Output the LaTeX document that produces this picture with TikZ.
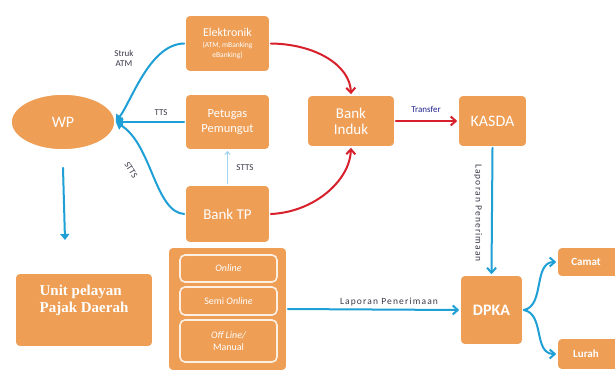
\documentclass[tikz,border=0pt]{standalone}
\usepackage{fontspec}
\setmainfont{Carlito}
\newfontfamily\serifbold{Liberation Serif}
\usetikzlibrary{arrows.meta,shapes.geometric}
\begin{document}
\begin{tikzpicture}[x=1pt,y=-1pt]
\definecolor{color0}{HTML}{EE9E55}
\definecolor{color1}{HTML}{1E9FD6}
\definecolor{color2}{HTML}{D7202B}
\definecolor{color3}{HTML}{3A3A4A}
\definecolor{color4}{HTML}{9FD3EC}
\tikzset{
  box/.style={rectangle,rounded corners=5pt,fill=color0,draw=white,line width=1.6pt,text=white,align=center,inner sep=1pt},
  subbox/.style={box,draw=white!85!color0,minimum width=97pt,font=\fontsize{10}{12}\selectfont},
  blueline/.style={color1,line width=2pt,line cap=round,-{Straight Barb[length=5pt,width=9pt]}},
  redline/.style={color2,line width=2pt,line cap=round,-{Straight Barb[length=5pt,width=9pt]}},
  lbl/.style={text=color3,font=\fontsize{9}{10}\selectfont,align=center,inner sep=1pt},
  widelbl/.style={lbl,font=\fontsize{9.5}{10}\selectfont\addfontfeature{LetterSpace=12}}
}
\useasboundingbox[fill=white] (0,0) rectangle (615,373);
% nodes
\node[ellipse,fill=color0,draw=white,line width=1.6pt,minimum width=104pt,minimum height=56pt,text=white,font=\fontsize{16}{18}\selectfont] (wp) at (63,122) {WP};
\node[box,minimum width=85pt,minimum height=57pt] (elek) at (227.5,43.5) {{\fontsize{12}{14}\selectfont Elektronik}\\[-1pt]{\fontsize{7.5}{8}\selectfont (ATM, mBanking}\\[-2pt]{\fontsize{7.5}{8}\selectfont eBanking)}};
\node[box,minimum width=85pt,minimum height=56pt,font=\fontsize{12.5}{15}\selectfont] (petugas) at (227.5,122) {Petugas\\Pemungut};
\node[box,minimum width=85pt,minimum height=58pt,font=\fontsize{15}{17}\selectfont] (banktp) at (227.5,214) {Bank TP};
\node[box,minimum width=119pt,minimum height=124pt] (kanal) at (227.5,309) {};
\node[subbox,minimum height=27pt] (online) at (228.5,268.5) {\itshape Online};
\node[subbox,minimum height=28pt] (semi) at (228.5,301) {Semi \itshape Online};
\node[subbox,minimum height=42pt] (offline) at (228.5,341) {\itshape Off Line/\\Manual};
\node[box,minimum width=138pt,minimum height=74pt,font=\serifbold\bfseries\fontsize{15}{17}\selectfont,align=left] (unit) at (84,310) {Unit pelayan\\Pajak Daerah\\[6pt]};
\node[box,minimum width=88pt,minimum height=52pt,font=\fontsize{15}{16}\selectfont] (bankinduk) at (351,121) {Bank\\Induk};
\node[box,minimum width=69pt,minimum height=52pt,font=\fontsize{16}{18}\selectfont] (kasda) at (492.5,121) {KASDA};
\node[box,minimum width=63pt,minimum height=70pt,font=\bfseries\fontsize{16}{18}\selectfont] (dpka) at (491.5,310) {DPKA};
\node[box,minimum width=64pt,minimum height=30pt,font=\bfseries\fontsize{11}{13}\selectfont] (camat) at (589,262) {\hspace*{-6pt}Camat};
\node[box,minimum width=64pt,minimum height=32pt,font=\bfseries\fontsize{11}{13}\selectfont] (lurah) at (589,354) {\hspace*{-6pt}Lurah};
\coordinate (wpdown) at (65,240);
% connectors to WP
\draw[color1,line width=2pt,line cap=round,-{Triangle[length=7pt,width=9pt]}] (elek.west) .. controls (150,44) and (132,100) .. (wp.east);
\draw[color1,line width=2pt,line cap=round,-{Triangle[length=7pt,width=9pt]}] (petugas.west) -- (wp.east);
\draw[color1,line width=2pt,line cap=round,-{Triangle[length=7pt,width=9pt]}] (banktp.west) .. controls (155,212) and (152,145) .. (wp.east);
\draw[blueline,-{Triangle[length=6pt,width=9pt]}] ([yshift=-17pt]wp.south) -- (wpdown);
\draw[color4,line width=1pt,-{Straight Barb[length=3pt,width=5pt]}] (banktp.north) -- (petugas.south);
\node[lbl] (lstruk) at (124,58) {Struk\\ATM};
\node[lbl] (ltts) at (161,113) {TTS};
\node[lbl,rotate=-58] (lstts) at (131,170) {STTS};
\node[lbl] (lstts2) at (245,168) {STTS};
% connectors to Bank Induk
\draw[redline] (elek.east) .. controls (315,44) and (350,65) .. (bankinduk.north);
\draw[redline] (banktp.east) .. controls (315,212) and (350,180) .. (bankinduk.south);
\draw[redline] (bankinduk.east) -- (kasda.west);
\node[lbl,text=color3!60!blue] (ltransfer) at (426,109) {Transfer};
% connectors to DPKA
\draw[blueline] (kasda.south) -- (dpka.north);
\node[widelbl,rotate=-90] (llap1) at (478,213) {Laporan Penerimaan};
\draw[blueline] (kanal.east) -- (dpka.west);
\node[widelbl] (llap2) at (389,302) {Laporan Penerimaan};
\draw[blueline] (dpka.east) .. controls (545,306) and (533,262) .. (camat.west);
\draw[blueline] (dpka.east) .. controls (545,314) and (533,354) .. (lurah.west);
\end{tikzpicture}
\end{document}
